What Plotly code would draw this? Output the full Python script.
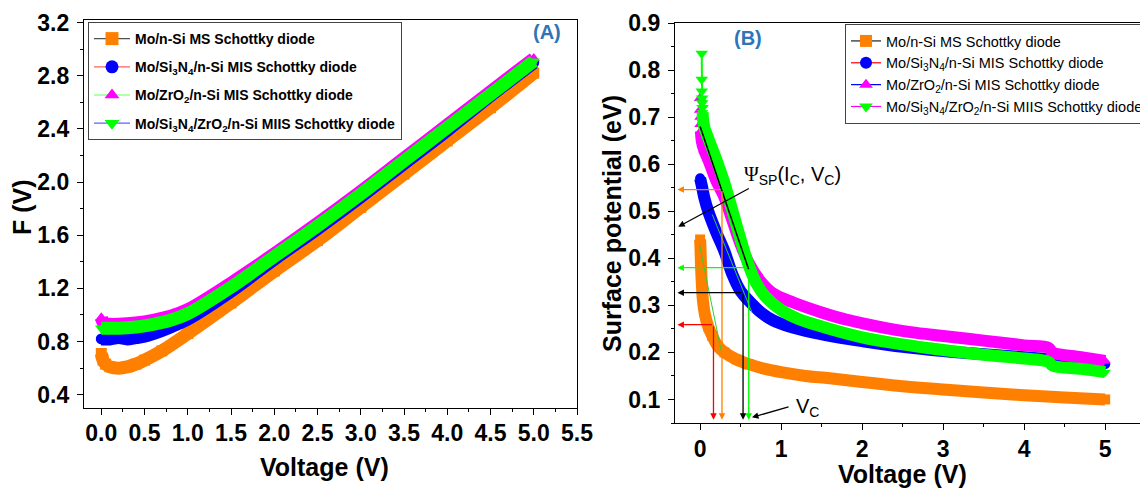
import plotly.graph_objects as go

# ---------------- Panel A : F(V) vs Voltage ----------------
vA_ms = [0.0, 0.02, 0.05, 0.1, 0.2, 0.3, 0.4, 0.5, 0.7, 1.0, 1.5, 2.0, 2.5, 3.0, 3.5, 4.0, 4.5, 5.0]
fA_ms = [0.71, 0.66, 0.63, 0.61, 0.60, 0.61, 0.63, 0.66, 0.73, 0.86, 1.09, 1.33, 1.56, 1.81, 2.06, 2.31, 2.56, 2.82]

vA_sin = [0.0, 0.1, 0.2, 0.3, 0.4, 0.5, 0.6, 0.8, 1.0, 1.5, 2.0, 2.5, 3.0, 3.5, 4.0, 4.5, 5.0]
fA_sin = [0.82, 0.82, 0.83, 0.82, 0.83, 0.84, 0.86, 0.91, 0.97, 1.18, 1.42, 1.65, 1.89, 2.14, 2.39, 2.65, 2.90]

vA_zro = [0.0, 0.03, 0.1, 0.2, 0.4, 0.6, 0.8, 1.0, 1.5, 2.0, 2.5, 3.0, 3.5, 4.0, 4.5, 5.0]
fA_zro = [0.98, 0.94, 0.93, 0.93, 0.94, 0.96, 0.99, 1.04, 1.24, 1.46, 1.69, 1.93, 2.18, 2.43, 2.68, 2.93]

vA_both = [0.0, 0.1, 0.2, 0.4, 0.6, 0.8, 1.0, 1.5, 2.0, 2.5, 3.0, 3.5, 4.0, 4.5, 5.0]
fA_both = [0.90, 0.90, 0.90, 0.91, 0.93, 0.96, 1.01, 1.21, 1.44, 1.67, 1.91, 2.16, 2.41, 2.66, 2.91]

# ---------------- Panel B : surface potential vs Voltage ----------------
vB_ms = [0.0, 0.005, 0.01, 0.02, 0.035, 0.06, 0.1, 0.15, 0.22, 0.3, 0.45, 0.6, 0.8, 1.0, 1.3, 1.6, 2.0, 2.5, 3.0, 3.5, 4.0, 4.5, 5.0]
sB_ms = [0.44, 0.42, 0.39, 0.35, 0.31, 0.28, 0.255, 0.235, 0.213, 0.20, 0.185, 0.175, 0.165, 0.158, 0.15, 0.145, 0.137, 0.128, 0.121, 0.115, 0.109, 0.104, 0.100]

vB_sin = [0.0, 0.02, 0.05, 0.1, 0.2, 0.3, 0.4, 0.5, 0.6, 0.75, 0.9, 1.1, 1.4, 1.7, 2.0, 2.5, 3.0, 3.5, 4.0, 4.5, 5.0]
sB_sin = [0.57, 0.555, 0.53, 0.50, 0.455, 0.415, 0.365, 0.33, 0.31, 0.285, 0.268, 0.255, 0.242, 0.232, 0.224, 0.212, 0.203, 0.196, 0.19, 0.183, 0.175]

vB_zro_top = [0.0, 0.0, 0.005, 0.005, 0.01]
sB_zro_top = [0.74, 0.715, 0.70, 0.685, 0.67]
vB_zro = [0.01, 0.02, 0.05, 0.1, 0.2, 0.3, 0.4, 0.5, 0.6, 0.75, 0.9, 1.15, 1.5, 1.8, 2.2, 2.6, 3.0, 3.5, 4.0, 4.3, 4.35, 4.7, 5.0]
sB_zro = [0.67, 0.65, 0.63, 0.61, 0.565, 0.53, 0.48, 0.43, 0.39, 0.35, 0.325, 0.306, 0.285, 0.27, 0.255, 0.243, 0.235, 0.225, 0.215, 0.21, 0.20, 0.19, 0.182]

vB_both_top = [0.02, 0.02, 0.02, 0.025, 0.025, 0.03]
sB_both_top = [0.835, 0.78, 0.755, 0.74, 0.73, 0.72]
vB_both = [0.03, 0.05, 0.1, 0.2, 0.3, 0.4, 0.5, 0.6, 0.7, 0.8, 1.0, 1.2, 1.5, 2.0, 2.5, 3.0, 3.5, 4.0, 4.3, 4.35, 4.7, 5.0]
sB_both = [0.71, 0.68, 0.655, 0.61, 0.56, 0.50, 0.44, 0.385, 0.345, 0.32, 0.29, 0.272, 0.255, 0.232, 0.217, 0.205, 0.195, 0.187, 0.18, 0.172, 0.165, 0.158]

# Critical-point construction (panel B)
vc_values = [0.165, 0.27, 0.53, 0.60]
psi_values = [0.259, 0.546, 0.327, 0.38]
vc_colors = ['#FF0000', '#FF8000', '#000000', '#00FF00']

# Tangent lines drawn on panel B
tan_black_v = [0.0, 0.6]
tan_black_s = [0.68, 0.376]
tan_green1_v = [0.15, 0.64]
tan_green1_s = [0.493, 0.285]
tan_green2_v = [-0.01, 0.27]
tan_green2_s = [0.43, 0.195]

names = ['Mo/n-Si MS Schottky diode',
         'Mo/Si<sub>3</sub>N<sub>4</sub>/n-Si MIS Schottky diode',
         'Mo/ZrO<sub>2</sub>/n-Si MIS Schottky diode',
         'Mo/Si<sub>3</sub>N<sub>4</sub>/ZrO<sub>2</sub>/n-Si MIIS Schottky diode']
colors = ['#FF8000', '#0000FF', '#FF00FF', '#00FF00']
symbols = ['square', 'circle', 'triangle-up', 'triangle-down']
legA_line = ['#505050', '#FF6060', '#60FF60', '#6060FF']
legB_line = ['#202020', '#FF0000', '#0000FF', '#FF00FF']

FONT = 'Liberation Sans'
W, H = 1140, 489

fig = go.Figure()

A_data = [(vA_ms, fA_ms), (vA_sin, fA_sin), (vA_zro, fA_zro), (vA_both, fA_both)]
B_data = [(vB_ms, sB_ms), (vB_sin, sB_sin), (vB_zro, sB_zro), (vB_both, sB_both)]
B_tops = {2: (vB_zro_top, sB_zro_top), 3: (vB_both_top, sB_both_top)}

for i, (vx, vy) in enumerate(A_data):
    fig.add_trace(go.Scatter(x=vx, y=vy, mode='lines+markers', xaxis='x', yaxis='y',
                             line=dict(color=colors[i], width=13, shape='spline'),
                             marker=dict(color=colors[i], symbol=symbols[i], size=11),
                             showlegend=False, hoverinfo='skip'))
for i, (vx, vy) in enumerate(B_data):
    if i in B_tops:
        tx, ty = B_tops[i]
        fig.add_trace(go.Scatter(x=tx, y=ty, mode='lines+markers', xaxis='x2', yaxis='y2',
                                 line=dict(color=colors[i], width=2),
                                 marker=dict(color=colors[i], symbol=symbols[i], size=11),
                                 showlegend=False, hoverinfo='skip'))
    fig.add_trace(go.Scatter(x=vx, y=vy, mode='lines+markers', xaxis='x2', yaxis='y2',
                             line=dict(color=colors[i], width=12, shape='spline'),
                             marker=dict(color=colors[i], symbol=symbols[i], size=10),
                             showlegend=False, hoverinfo='skip'))

for tv, ts, c, w in [(tan_black_v, tan_black_s, '#000000', 1.5),
                     (tan_green1_v, tan_green1_s, '#33CC33', 1),
                     (tan_green2_v, tan_green2_s, '#33CC33', 1)]:
    fig.add_trace(go.Scatter(x=tv, y=ts, mode='lines', xaxis='x2', yaxis='y2',
                             line=dict(color=c, width=w), showlegend=False, hoverinfo='skip'))

# legend entries
for i in range(4):
    fig.add_trace(go.Scatter(x=[None], y=[None], mode='lines+markers', xaxis='x', yaxis='y',
                             name=names[i], legend='legend', legendgroup='a%d' % i,
                             line=dict(color=legA_line[i], width=1.2),
                             marker=dict(color=colors[i], symbol=symbols[i], size=13)))
for i in range(4):
    fig.add_trace(go.Scatter(x=[None], y=[None], mode='lines+markers', xaxis='x2', yaxis='y2',
                             name=names[i], legend='legend2', legendgroup='b%d' % i,
                             line=dict(color=legB_line[i], width=1.2),
                             marker=dict(color=colors[i], symbol=symbols[i], size=12)))

ax_common = dict(showline=True, linecolor='black', linewidth=1.3, ticks='outside', ticklen=6,
                 tickcolor='black', showgrid=False, zeroline=False, automargin=False,
                 tickfont=dict(family=FONT, size=23, color='black', weight='bold'))

fig.update_layout(
    width=W, height=H, margin=dict(l=0, r=0, t=0, b=0, autoexpand=False),
    paper_bgcolor='white', plot_bgcolor='white',
    xaxis=dict(domain=[84 / W, 577 / W], range=[-0.2, 5.5], anchor='y', tick0=0, dtick=0.5,
               tickformat='.1f', mirror=True, ticklabelstandoff=-2,
               minor=dict(ticks='outside', ticklen=3, dtick=0.25, tickcolor='black'), **ax_common),
    yaxis=dict(domain=[(H - 408) / H, (H - 20) / H], range=[0.30, 3.22], anchor='x', tick0=0.4, dtick=0.4,
               tickformat='.1f', mirror=True, ticklabelstandoff=3,
               minor=dict(ticks='outside', ticklen=3, dtick=0.2, tickcolor='black'), **ax_common),
    xaxis2=dict(domain=[675 / W, 1.0], range=[-0.31, 5.43], anchor='y2', tick0=0, dtick=1,
                mirror=True, ticklabelstandoff=-1,
                minor=dict(ticks='outside', ticklen=3, dtick=0.5, tickcolor='black'), **ax_common),
    yaxis2=dict(domain=[(H - 423) / H, (H - 23) / H], range=[0.05, 0.9], anchor='x2', tick0=0.1, dtick=0.1,
                tickformat='.1f', mirror=False, ticklabelstandoff=3,
                minor=dict(ticks='outside', ticklen=3, dtick=0.05, tickcolor='black'), **ax_common),
    legend=dict(x=88 / W, y=(H - 22) / H, xanchor='left', yanchor='top', bgcolor='white',
                bordercolor='#444', borderwidth=1, tracegroupgap=7, itemwidth=36,
                font=dict(family=FONT, size=14, color='black', weight='bold')),
    legend2=dict(x=845 / W, y=(H - 24) / H, xanchor='left', yanchor='top', bgcolor='white',
                 bordercolor='#444', borderwidth=1, tracegroupgap=0, itemwidth=30,
                 font=dict(family=FONT, size=14.5, color='black')),
)

ann = []
# axis titles
ann.append(dict(text='Voltage (V)', x=324 / W, y=1 - 467 / H, xref='paper', yref='paper', showarrow=False,
                xanchor='center', yanchor='middle',
                font=dict(family=FONT, size=25, color='black', weight='bold')))
ann.append(dict(text='F (V)', x=22 / W, y=1 - 207 / H, xref='paper', yref='paper', showarrow=False,
                xanchor='center', yanchor='middle',
                textangle=-90, font=dict(family=FONT, size=25, color='black', weight='bold')))
ann.append(dict(text='Voltage (V)', x=902 / W, y=1 - 474 / H, xref='paper', yref='paper', showarrow=False,
                xanchor='center', yanchor='middle',
                font=dict(family=FONT, size=25, color='black', weight='bold')))
ann.append(dict(text='Surface potential (eV)', x=612 / W, y=1 - 224 / H, xref='paper', yref='paper',
                showarrow=False, textangle=-90, xanchor='center', yanchor='middle',
                font=dict(family=FONT, size=25, color='black', weight='bold')))
# panel labels
ann.append(dict(text='(A)', x=5.15, y=3.13, xref='x', yref='y', showarrow=False,
                xanchor='center', yanchor='middle',
                font=dict(family=FONT, size=20, color='#2E75B6', weight='bold')))
ann.append(dict(text='(B)', x=0.59, y=0.869, xref='x2', yref='y2', showarrow=False,
                xanchor='center', yanchor='middle',
                font=dict(family=FONT, size=20, color='#2E75B6', weight='bold')))

# critical point arrows
for vc, ps, c in zip(vc_values, psi_values, vc_colors):
    ann.append(dict(x=vc, y=0.057, ax=vc, ay=ps, xref='x2', yref='y2', axref='x2', ayref='y2',
                    text='', showarrow=True, arrowhead=2, arrowsize=1, arrowwidth=1.3, arrowcolor=c,
                    standoff=0))
    ann.append(dict(x=-0.28, y=ps, ax=vc, ay=ps, xref='x2', yref='y2', axref='x2', ayref='y2',
                    text='', showarrow=True, arrowhead=2, arrowsize=1, arrowwidth=1.3, arrowcolor=c,
                    standoff=0))

# Psi label and arrow
ann.append(dict(text='<span style="font-family:Liberation Serif">Ψ</span><sub>SP</sub>(I<sub>C</sub>, V<sub>C</sub>)',
                x=1.14, y=0.575, xref='x2', yref='y2', showarrow=False, xanchor='center', yanchor='middle',
                font=dict(family=FONT, size=20, color='black')))
ann.append(dict(x=-0.27, y=0.467, ax=0.62, ay=0.55, xref='x2', yref='y2', axref='x2', ayref='y2',
                text='', showarrow=True, arrowhead=2, arrowsize=1, arrowwidth=1.3, arrowcolor='black',
                standoff=0))
# V_C label and arrow
ann.append(dict(text='V<sub>C</sub>', x=1.32, y=0.082, xref='x2', yref='y2', showarrow=False,
                xanchor='center', yanchor='middle',
                font=dict(family=FONT, size=20, color='black')))
ann.append(dict(x=0.64, y=0.062, ax=1.11, ay=0.085, xref='x2', yref='y2', axref='x2', ayref='y2',
                text='', showarrow=True, arrowhead=2, arrowsize=1, arrowwidth=1.3, arrowcolor='black',
                standoff=0))

fig.update_layout(annotations=ann)

fig.write_html('out.html', config={'displayModeBar': False},
               post_script="document.body.style.margin='0';document.body.style.overflow='hidden';")
